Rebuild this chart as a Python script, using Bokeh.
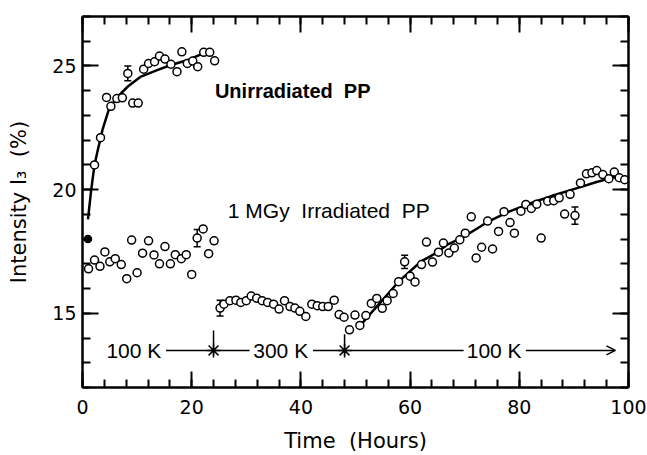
from bokeh.plotting import figure
from bokeh.models import (Range1d, LinearAxis, SingleIntervalTicker, Label, Arrow,
                          OpenHead, Whisker, TeeHead, ColumnDataSource)
from bokeh.embed import file_html
from bokeh.resources import INLINE

# ---------------- data ----------------
# Unirradiated PP
unirr_x = [2.2, 3.3, 4.4, 5.2, 6.3, 7.3, 8.3, 9.2, 10.2, 11.2, 12.1, 13.2, 14.1, 15.1,
           16.2, 17.3, 18.2, 19.2, 20.2, 21.1, 22.2, 23.3, 24.2]
unirr_y = [21.0, 22.1, 23.73, 23.37, 23.68, 23.71, 24.7, 23.5, 23.5, 24.87, 25.1, 25.17, 25.4, 25.28,
           25.07, 24.77, 25.57, 25.1, 25.2, 24.97, 25.55, 25.55, 25.21]
unirr_start_x = [1.0]
unirr_start_y = [18.0]
unirr_fit_x = [1.0, 1.6, 2.2, 2.7, 3.7, 4.9, 6.5, 8.3, 10.7, 13.8, 16.2, 19.3, 22.3, 24.0]
unirr_fit_y = [18.8, 20.0, 21.0, 21.5, 22.45, 23.3, 23.77, 24.17, 24.57, 24.84, 25.04, 25.24, 25.53, 25.55]

# 1 MGy irradiated PP
irr_x = [1.1, 2.2, 3.2, 4.1, 5.0, 6.0, 7.1, 8.1, 9.0, 10.0, 11.0, 12.1, 13.1, 14.1, 15.1, 16.1,
         17.0, 18.1, 19.0, 20.0, 21.0, 22.1, 23.1, 24.1,
         25.2, 25.9, 27.0, 28.1, 29.0, 30.0, 30.9, 31.9, 32.9, 33.9, 35.0, 36.0, 37.0, 38.0,
         38.9, 39.8, 40.9, 42.0, 43.0, 44.0, 45.0, 46.1, 47.0, 47.9,
         48.9, 49.9, 50.8, 51.9, 52.9, 53.9, 54.9, 55.8, 56.9, 57.9, 59.0, 60.0, 60.9, 62.1,
         63.0, 64.1, 65.2, 66.1, 67.1, 68.1, 69.1, 70.1, 71.2, 72.1, 73.1, 74.2, 75.1, 76.2,
         77.2, 78.3, 79.1, 80.3, 81.2, 82.2, 83.2, 84.0, 85.2, 86.3, 87.3, 88.3, 89.3, 90.2,
         91.2, 92.3, 93.3, 94.2, 95.3, 96.4, 97.4, 98.3, 99.3]
irr_y = [16.8, 17.15, 16.9, 17.48, 17.08, 17.21, 16.97, 16.4, 17.96, 16.64, 17.43, 17.93, 17.36, 17.0,
         17.7, 17.0, 17.37, 17.21, 17.37, 16.57, 18.04, 18.41, 17.41, 17.93,
         15.21, 15.37, 15.51, 15.53, 15.44, 15.51, 15.7, 15.61, 15.51, 15.44, 15.37, 15.17, 15.51, 15.27,
         15.21, 15.08, 14.87, 15.37, 15.31, 15.27, 15.27, 15.53, 14.95, 14.84,
         14.33, 14.93, 14.51, 14.91, 15.4, 15.6, 15.2, 15.51, 15.8, 16.28, 17.08, 16.5, 16.27, 16.97,
         17.88, 17.07, 17.47, 17.84, 17.44, 17.64, 17.97, 18.24, 18.9, 17.24, 17.67, 18.73, 17.6, 18.31,
         19.11, 18.67, 18.24, 19.13, 19.4, 19.24, 19.41, 18.04, 19.53, 19.55, 19.67, 19.01, 19.81, 18.95,
         20.27, 20.64, 20.68, 20.77, 20.61, 20.44, 20.71, 20.48, 20.4]
irr_fit_x = [50.5, 52.0, 54.0, 56.0, 58.0, 60.0, 62.0, 64.5, 67.0, 69.4, 72.8, 74.2, 78.0, 82.7,
             86.0, 91.2, 94.0, 97.3, 100.0]
irr_fit_y = [14.4, 14.8, 15.3, 15.8, 16.3, 16.7, 17.1, 17.4, 17.8, 18.04, 18.5, 18.7, 19.1, 19.5,
             19.75, 20.1, 20.3, 20.5, 20.4]

# error bars
err_x = [8.3, 21.0, 25.2, 59.0, 90.2]
err_y = [24.7, 18.04, 15.21, 17.08, 18.95]
err_d = [0.3, 0.35, 0.32, 0.27, 0.35]

# temperature phases
phase_change_x = [24, 48]
phase_labels = ["100 K", "300 K", "100 K"]

FONT = "Liberation Sans"
AXFONT = "DejaVu Sans"
NB = "\u00a0"

p = figure(width=647, height=455, x_range=Range1d(0, 100), y_range=Range1d(12, 27),
           output_backend="svg", toolbar_location=None,
           min_border_left=82, min_border_right=19, min_border_top=16, min_border_bottom=65)
p.grid.visible = False
p.outline_line_color = None
p.background_fill_color = "white"
p.border_fill_color = "white"

xt = SingleIntervalTicker(interval=20, num_minor_ticks=5)
yt = SingleIntervalTicker(interval=5, num_minor_ticks=5)
p.xaxis.ticker = xt
p.yaxis.ticker = yt
top_ax = LinearAxis(ticker=xt)
right_ax = LinearAxis(ticker=yt)
p.add_layout(top_ax, "above")
p.add_layout(right_ax, "right")

for ax in [p.below[0], p.left[0], top_ax, right_ax]:
    ax.axis_line_width = 2.5
    ax.axis_line_color = "black"
    ax.major_tick_in = 16
    ax.major_tick_out = 0
    ax.minor_tick_in = 8
    ax.minor_tick_out = 0
    ax.major_tick_line_width = 2
    ax.minor_tick_line_width = 2
    ax.major_label_text_font = AXFONT
    ax.major_label_text_font_size = "19px"
    ax.major_label_text_color = "black"
    ax.axis_label_text_font = AXFONT
    ax.axis_label_text_font_size = "21px"
    ax.axis_label_text_font_style = "normal"
    ax.axis_label_text_color = "black"

for ax in [top_ax, right_ax]:
    ax.major_label_text_color = None
    ax.major_label_standoff = 0

bottom = p.below[0]
left = p.left[0]
bottom.axis_label = "Time" + NB * 2 + "(Hours)"
bottom.major_label_standoff = 12
bottom.axis_label_standoff = 12
left.axis_label = "Intensity" + NB + "I\u2083" + NB * 2 + "(%)"
left.major_label_standoff = 6
left.axis_label_standoff = 18

# fitted curves
p.line(unirr_fit_x, unirr_fit_y, line_color="black", line_width=2.5)
p.line(irr_fit_x, irr_fit_y, line_color="black", line_width=2.5)

# error bars
esrc = ColumnDataSource(dict(x=err_x, lo=[y - d for y, d in zip(err_y, err_d)],
                             hi=[y + d for y, d in zip(err_y, err_d)]))
p.add_layout(Whisker(source=esrc, base="x", lower="lo", upper="hi", line_width=1.5,
                     line_color="black",
                     lower_head=TeeHead(size=7, line_width=1.5, line_color="black"),
                     upper_head=TeeHead(size=7, line_width=1.5, line_color="black")))

# points
p.scatter(unirr_x, unirr_y, marker="circle", size=8, fill_color="white",
          line_color="black", line_width=1.5)
p.scatter(irr_x, irr_y, marker="circle", size=8, fill_color="white",
          line_color="black", line_width=1.5)
p.scatter(unirr_start_x, unirr_start_y, marker="circle", size=7, fill_color="black",
          line_color="black", line_width=1.5)

# series labels
p.add_layout(Label(x=38.5, y=24.0, text="Unirradiated" + NB * 2 + "PP", text_font=FONT,
                   text_font_size="20px", text_font_style="bold", text_align="center",
                   text_baseline="middle", text_color="black"))
p.add_layout(Label(x=45.1, y=19.16, text="1 MGy" + NB * 2 + "Irradiated" + NB * 2 + "PP",
                   text_font=FONT, text_font_size="21px", text_align="center",
                   text_baseline="middle", text_color="black"))

# temperature phase annotation
ya = 13.5
label_cx = [9.4, 36.3, 75.4]
for cx, t in zip(label_cx, phase_labels):
    p.add_layout(Label(x=cx, y=ya, text=t, text_font=FONT, text_font_size="21px",
                       text_align="center", text_baseline="middle", text_color="black"))

segs = [(15.3, 23.8, None), (24.2, 30.6, None), (42.2, 47.8, None),
        (48.2, 69.8, None), (81.2, 97.6, "end")]
for xs, xe, head in segs:
    p.add_layout(Arrow(x_start=xs, y_start=ya, x_end=xe, y_end=ya, line_width=1.5,
                       line_color="black",
                       end=OpenHead(size=9, line_width=1.5) if head == "end" else None))

p.scatter(phase_change_x, [ya] * len(phase_change_x), marker="asterisk", size=14,
          line_color="black", line_width=1.5)
p.segment(x0=phase_change_x, y0=[ya - 0.2] * 2, x1=phase_change_x, y1=[ya + 0.8, ya + 0.65],
          line_color="black", line_width=1.5)

open("out.html", "w").write(file_html(p, INLINE))
